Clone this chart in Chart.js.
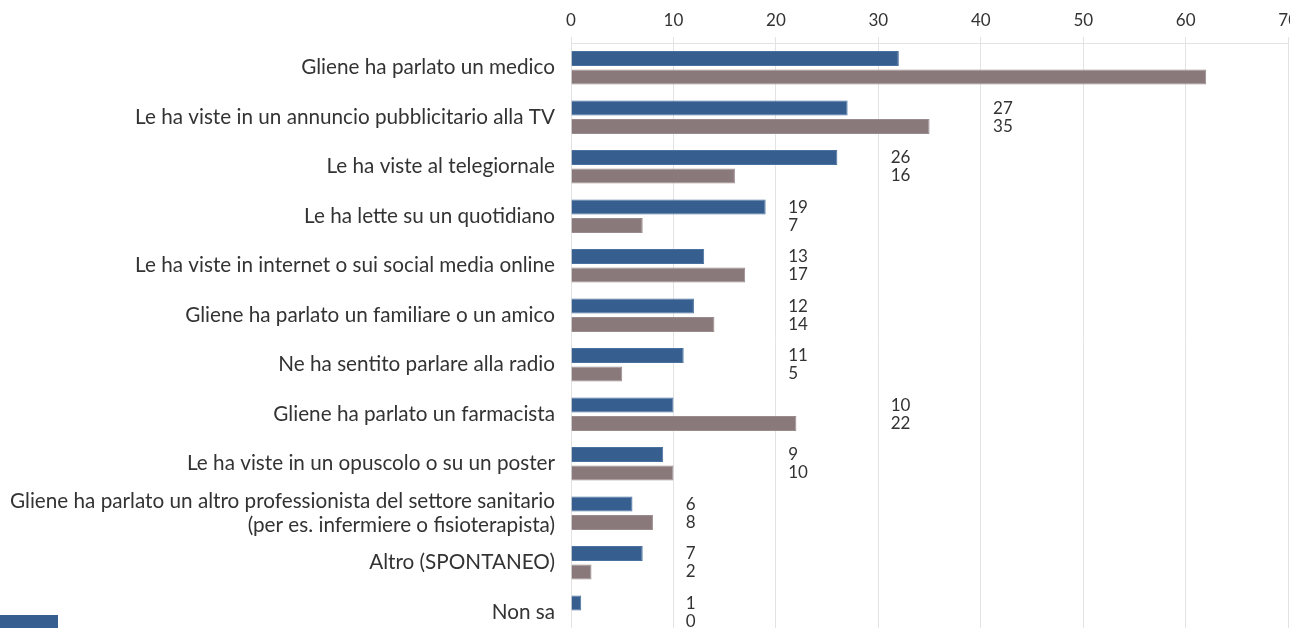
<!DOCTYPE html>
<html>
<head>
<meta charset="utf-8">
<script src="https://cdn.jsdelivr.net/npm/chart.js@4"></script>
<style>
  html, body { margin: 0; padding: 0; background: #fff; overflow: hidden; }
  #wrap { position: absolute; left: 0; top: 0; }
</style>
</head>
<body>
<div id="wrap"><canvas id="barChart" width="1304" height="657"></canvas></div>
<script>
const categories = [
  'Gliene ha parlato un medico',
  'Le ha viste in un annuncio pubblicitario alla TV',
  'Le ha viste al telegiornale',
  'Le ha lette su un quotidiano',
  'Le ha viste in internet o sui social media online',
  'Gliene ha parlato un familiare o un amico',
  'Ne ha sentito parlare alla radio',
  'Gliene ha parlato un farmacista',
  'Le ha viste in un opuscolo o su un poster',
  ['Gliene ha parlato un altro professionista del settore sanitario', '(per es. infermiere o fisioterapista)'],
  'Altro (SPONTANEO)',
  'Non sa'
];
const seriesBlue = [32, 27, 26, 19, 13, 12, 11, 10, 9, 6, 7, 1];
const seriesGrey = [62, 35, 16, 7, 17, 14, 5, 22, 10, 8, 2, 0];
const xTicks = [0, 10, 20, 30, 40, 50, 60, 70];

const BLUE = '#365f8f';
const GREY = '#8a797b';
const TEXT = '#333333';
const FONT = 'Lato, "Noto Sans", sans-serif';

// value labels sit just past the next gridline after the longer bar
const valueLabels = {
  id: 'valueLabels',
  afterDatasetsDraw(chart) {
    const ctx = chart.ctx;
    const x = chart.scales.x;
    ctx.save();
    ctx.font = '17px ' + FONT;
    ctx.fillStyle = TEXT;
    ctx.textAlign = 'left';
    ctx.textBaseline = 'middle';
    categories.forEach((c, i) => {
      const m = Math.max(seriesBlue[i], seriesGrey[i]);
      const px = x.getPixelForValue(Math.floor(m / 10) * 10 + 11.2);
      chart.data.datasets.forEach((ds, d) => {
        const bar = chart.getDatasetMeta(d).data[i];
        ctx.fillText(String(ds.data[i]), px, bar.y);
      });
    });
    ctx.restore();
  }
};

// legend swatch peeking in at the bottom left
const legendSwatch = {
  id: 'legendSwatch',
  afterDraw(chart) {
    const ctx = chart.ctx;
    ctx.save();
    ctx.fillStyle = chart.data.datasets[0].backgroundColor;
    ctx.fillRect(0, 615, 58, 16);
    ctx.restore();
  }
};

new Chart(document.getElementById('barChart'), {
  type: 'bar',
  data: {
    labels: categories,
    datasets: [
      { label: 'Serie 1', data: seriesBlue, backgroundColor: BLUE, borderColor: '#4a72a0', borderWidth: 1 },
      { label: 'Serie 2', data: seriesGrey, backgroundColor: GREY, borderColor: '#9a8b8d', borderWidth: 1 }
    ]
  },
  options: {
    indexAxis: 'y',
    responsive: false,
    animation: false,
    devicePixelRatio: 1,
    categoryPercentage: 0.74,
    barPercentage: 0.82,
    layout: { padding: 0 },
    plugins: {
      legend: { display: false },
      tooltip: { enabled: false }
    },
    scales: {
      x: {
        position: 'top',
        min: 0,
        max: 70,
        afterBuildTicks: s => { s.ticks = xTicks.map(v => ({ value: v })); },
        afterFit: s => { s.height = 43; },
        grid: { color: '#e3e3e3', tickLength: 6 },
        border: { color: '#e3e3e3' },
        ticks: { color: TEXT, padding: 6, font: { size: 17, family: FONT } }
      },
      y: {
        afterFit: s => { s.width = 571; },
        grid: { display: false },
        border: { display: false },
        ticks: {
          color: TEXT,
          padding: 8,
          autoSkip: false,
          font: { size: 20.7, family: FONT, lineHeight: 1.16 }
        }
      }
    }
  },
  plugins: [valueLabels, legendSwatch]
});
</script>
</body>
</html>
